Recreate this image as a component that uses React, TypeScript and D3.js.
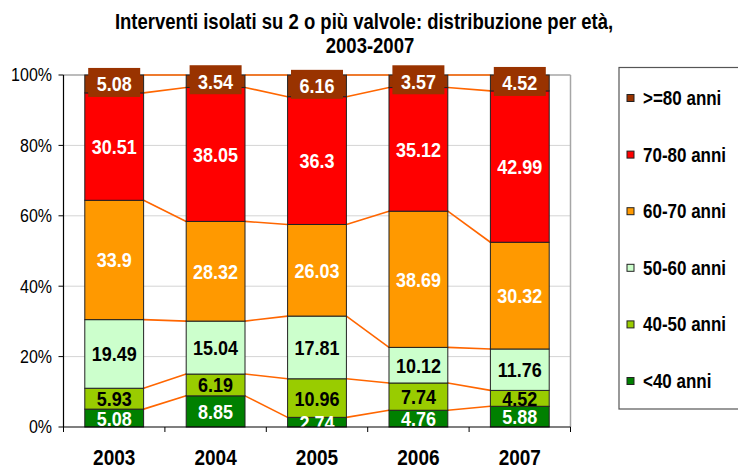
import React from "react";
import * as d3 from "d3";

const years = ["2003", "2004", "2005", "2006", "2007"];
const seriesNames = ["<40 anni", "40-50 anni", "50-60 anni", "60-70 anni", "70-80 anni", ">=80 anni"];
const under40 = [5.08, 8.85, 2.74, 4.76, 5.88];
const age40_50 = [5.93, 6.19, 10.96, 7.74, 4.52];
const age50_60 = [19.49, 15.04, 17.81, 10.12, 11.76];
const age60_70 = [33.9, 28.32, 26.03, 38.69, 30.32];
const age70_80 = [30.51, 38.05, 36.3, 35.12, 42.99];
const over80 = [5.08, 3.54, 6.16, 3.57, 4.52];
const seriesColors = ["#008000", "#99CC00", "#CCFFCC", "#FF9900", "#FF0000", "#993300"];
const labelColors = ["#fff", "#000", "#000", "#fff", "#fff", "#fff"];
const yTicks = [0, 0.2, 0.4, 0.6, 0.8, 1];

const allSeries = [under40, age40_50, age50_60, age60_70, age70_80, over80];

const font = "Arial, 'Liberation Sans', sans-serif";

function T(props: {
  x: number;
  y: number;
  size: number;
  anchor?: string;
  fill?: string;
  bold?: boolean;
  sy?: number;
  middle?: boolean;
  children: any;
}) {
  const sy = props.sy ?? 1.15;
  return (
    <g transform={`translate(${props.x},${props.y}) scale(1,${sy})`}>
      <text
        x={0}
        y={0}
        dy={props.middle ? "0.36em" : undefined}
        textAnchor={props.anchor ?? "start"}
        fontFamily={font}
        fontWeight={props.bold === false ? "normal" : "bold"}
        fontSize={props.size}
        fill={props.fill ?? "#000"}
      >
        {props.children}
      </text>
    </g>
  );
}

export default function App() {
  const W = 738, H = 468;
  const left = 63.5, right = 570.5, top = 75, bottom = 427;
  const x = d3.scaleBand<string>().domain(years).range([left, right]).padding(0);
  const y = d3.scaleLinear().domain([0, 1]).range([bottom, top]);
  const barW = x.bandwidth() * 0.58;
  const rows = years.map((yr, i) => {
    const r: any = { year: yr };
    seriesNames.forEach((s, k) => (r[s] = allSeries[k][i]));
    return r;
  });
  const stacked = d3.stack<any>().keys(seriesNames).offset(d3.stackOffsetExpand)(rows);
  const bx = (i: number) => (x(years[i]) as number) + (x.bandwidth() - barW) / 2;
  const legendY0 = 98, legendStep = 56.6;

  return (
    <svg width={W} height={H} style={{ position: "absolute", left: 0, top: 0, background: "#fff" }}>
      <defs>
        <clipPath id="lblclip">
          <rect x={0} y={0} width={W} height={bottom} />
        </clipPath>
      </defs>
      <rect x={0} y={0} width={W} height={H} fill="#fff" />
      <T x={364} y={29} size={18.5} anchor="middle" sy={1.18}>
        Interventi isolati su 2 o più valvole: distribuzione per età,
      </T>
      <T x={370} y={53} size={18.5} anchor="middle" sy={1.18}>
        2003-2007
      </T>
      {/* gridlines */}
      {yTicks.slice(1, -1).map((t) => (
        <line key={t} x1={left} x2={right} y1={y(t)} y2={y(t)} stroke="#d4d4d4" strokeWidth={1} />
      ))}
      <line x1={left} x2={right} y1={top} y2={top} stroke="#a6a6a6" strokeWidth={1.5} />
      <line x1={right} x2={right} y1={top} y2={bottom} stroke="#a6a6a6" strokeWidth={1.5} />
      {/* series lines */}
      {stacked.map((s, k) =>
        years.slice(0, -1).map((_, i) => (
          <line
            key={`sl${k}-${i}`}
            x1={bx(i) + barW}
            x2={bx(i + 1)}
            y1={y(s[i][1])}
            y2={y(s[i + 1][1])}
            stroke="#FF6600"
            strokeWidth={1.6}
          />
        ))
      )}
      {/* bars */}
      {stacked.map((s, k) =>
        s.map((d, i) => (
          <rect
            key={`b${k}-${i}`}
            x={bx(i)}
            y={y(d[1])}
            width={barW}
            height={y(d[0]) - y(d[1])}
            fill={seriesColors[k]}
            stroke="#222"
            strokeWidth={1}
          />
        ))
      )}
      {/* labels */}
      <g clipPath="url(#lblclip)">
        {stacked.map((s, k) =>
          s.map((d, i) => {
            const cy = (y(d[0]) + y(d[1])) / 2;
            const cx = bx(i) + barW / 2;
            return (
              <g key={`l${k}-${i}`}>
                {k === seriesNames.length - 1 && (
                  <rect x={cx - 26} y={cy - 16} width={52} height={29} fill="#993300" />
                )}
                <T x={cx} y={cy} size={18} anchor="middle" middle fill={labelColors[k]}>
                  {allSeries[k][i]}
                </T>
              </g>
            );
          })
        )}
      </g>
      {/* axes */}
      <line x1={left} x2={left} y1={top} y2={bottom} stroke="#000" strokeWidth={1.2} />
      <line x1={left} x2={right} y1={bottom} y2={bottom} stroke="#000" strokeWidth={1.2} />
      {yTicks.map((t) => (
        <g key={`yt${t}`}>
          <line x1={left - 5} x2={left} y1={y(t)} y2={y(t)} stroke="#000" />
          <T x={52} y={y(t)} size={16} anchor="end" middle bold={false} sy={1.1}>
            {`${Math.round(t * 100)}%`}
          </T>
        </g>
      ))}
      {years.map((yr, i) => (
        <line key={`xt${i}`} x1={x(yr)} x2={x(yr)} y1={bottom} y2={bottom + 5} stroke="#000" />
      ))}
      <line x1={right} x2={right} y1={bottom} y2={bottom + 5} stroke="#000" />
      {years.map((yr) => (
        <T key={`xl${yr}`} x={(x(yr) as number) + x.bandwidth() / 2} y={465} size={19} anchor="middle">
          {yr}
        </T>
      ))}
      {/* legend */}
      <rect x={619} y={67.5} width={130} height={341.5} fill="#fff" stroke="#555" strokeWidth={1.2} />
      {seriesNames
        .slice()
        .reverse()
        .map((name, j) => {
          const k = seriesNames.length - 1 - j;
          const cy = legendY0 + j * legendStep;
          return (
            <g key={`lg${name}`}>
              <rect x={627} y={cy - 3.5} width={7} height={7} fill={seriesColors[k]} stroke="#222" strokeWidth={1} />
              <T x={643} y={cy} size={17} middle>
                {name}
              </T>
            </g>
          );
        })}
    </svg>
  );
}
